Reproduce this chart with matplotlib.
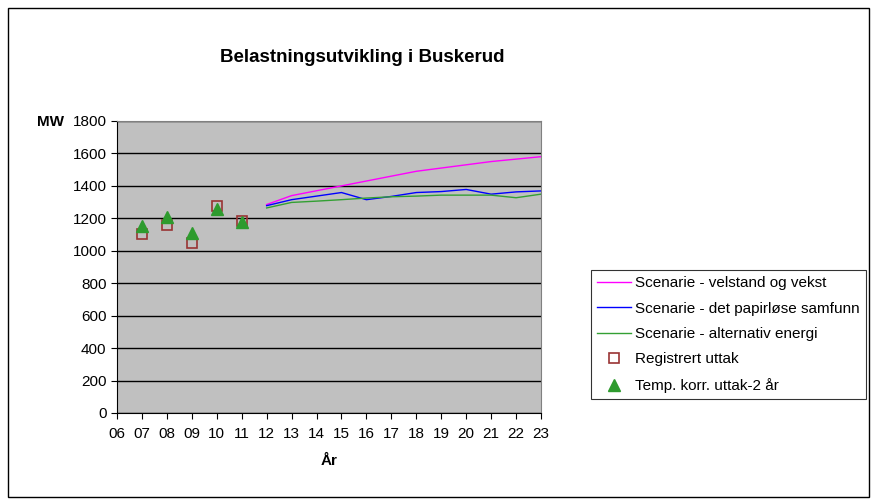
import matplotlib
matplotlib.use("Agg")
import matplotlib.pyplot as plt
from matplotlib.patches import Rectangle

plt.rcParams['font.family'] = ['Liberation Sans', 'DejaVu Sans']

# data
scen_years = [12, 13, 14, 15, 16, 17, 18, 19, 20, 21, 22, 23]
velstand = [1285, 1340, 1370, 1400, 1430, 1460, 1490, 1510, 1530, 1550, 1565, 1580]
papirlose = [1278, 1315, 1337, 1359, 1315, 1335, 1359, 1365, 1378, 1349, 1363, 1369]
alternativ = [1264, 1298, 1306, 1315, 1325, 1333, 1337, 1343, 1343, 1343, 1327, 1349]

obs_years = [7, 8, 9, 10, 11]
registrert = [1103, 1159, 1048, 1276, 1183]
temp_korr = [1150, 1210, 1110, 1258, 1177]

xticks = list(range(6, 24))
xlabels = ['%02d' % y for y in xticks]

fig = plt.figure(figsize=(8.77, 5.04), dpi=100)
ax = fig.add_axes([117/877, 1-413/504, (541-117)/877, (413-121)/504])
ax.set_facecolor('#C0C0C0')

ax.plot(scen_years, velstand, color='#FF00FF', lw=1, label='Scenarie - velstand og vekst')
ax.plot(scen_years, papirlose, color='#0000FF', lw=1, label='Scenarie - det papirløse samfunn')
ax.plot(scen_years, alternativ, color='#33A033', lw=1, label='Scenarie - alternativ energi')
ax.plot(obs_years, registrert, ls='none', marker='s', ms=7, mfc='none', mec='#993333',
        mew=1.2, label='Registrert uttak')
ax.plot(obs_years, temp_korr, ls='none', marker='^', ms=8.5, color='#2E9B2E',
        label='Temp. korr. uttak-2 år')

ax.set_xlim(6, 23)
ax.set_ylim(0, 1800)
ax.set_xticks(xticks)
ax.set_xticklabels(xlabels)
ax.set_yticks(range(0, 1801, 200))
ax.tick_params(labelsize=11, direction='out', length=4, color='black')
ax.tick_params(axis='x', pad=6)
ax.yaxis.grid(True, color='black', lw=1)
ax.set_axisbelow(True)
for s in ['top', 'right']:
    ax.spines[s].set_color('#808080')
ax.spines['left'].set_color('black')
ax.spines['bottom'].set_color('black')

fig.text(362/877, 1-57/504, 'Belastningsutvikling i Buskerud', ha='center', va='center',
         fontsize=13.5, fontweight='bold')
fig.text(50/877, 1-122/504, 'MW', ha='center', va='center', fontsize=11, fontweight='bold')
fig.text(329/877, 1-461/504, 'År', ha='center', va='center', fontsize=11, fontweight='bold')

leg = ax.legend(loc='center left', bbox_to_anchor=(591/877, 1-334.5/504),
                bbox_transform=fig.transFigure, fontsize=11, frameon=True, fancybox=False,
                edgecolor='black', handlelength=2.2, handletextpad=0.3,
                borderpad=0.4, labelspacing=0.75, borderaxespad=0)
leg.get_frame().set_linewidth(0.8)

fig.patches.append(Rectangle((8/877, 1-497/504), 861/877, 489/504, transform=fig.transFigure,
                             fill=False, edgecolor='black', lw=1))

fig.savefig('out.png', dpi=100)
